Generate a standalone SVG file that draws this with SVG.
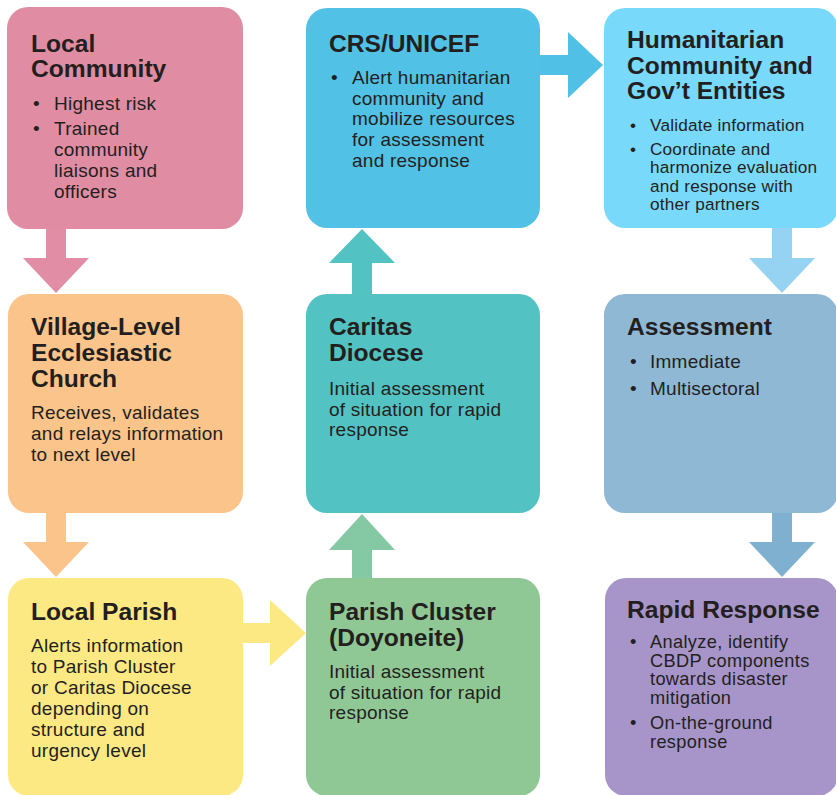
<svg xmlns="http://www.w3.org/2000/svg" width="836" height="795" viewBox="0 0 836 795">
  <style>
    .title { font-family: "Liberation Sans", Arial, sans-serif; font-weight: bold; font-size: 24.6px; fill: #231f20; }
    .body { font-family: "Liberation Sans", Arial, sans-serif; font-size: 19px; letter-spacing: 0.25px; fill: #231f20; }
    .small { font-size: 17.2px; letter-spacing: 0.2px; }
    .mid { font-size: 18.2px; letter-spacing: 0.35px; }
  </style>
  <rect width="836" height="795" fill="#ffffff"/>

  <!-- block arrows between stages -->
  <g id="connectors">
    <polygon id="a-community-village" fill="#e08da5" points="46,228 66,228 66,258 89,258 56,293 23,258 46,258"/>
    <polygon id="a-village-parish" fill="#fbc48a" points="46,512 66,512 66,542 89,542 56,577 23,542 46,542"/>
    <polygon id="a-parish-cluster" fill="#fde983" points="242,623 270,623 270,600 306,633 270,666 270,643 242,643"/>
    <polygon id="a-cluster-caritas" fill="#84c9a3" points="352,579 372,579 372,550 395,550 362,514 329,550 352,550"/>
    <polygon id="a-caritas-crs" fill="#52c2c2" points="352,295 372,295 372,263 395,263 362,229 329,263 352,263"/>
    <polygon id="a-crs-humanitarian" fill="#50c0e6" points="538,55 568,55 568,32 603,65 568,98 568,75 538,75"/>
    <polygon id="a-humanitarian-assessment" fill="#96d2f2" points="772,227 792,227 792,258 815,258 782,293 749,258 772,258"/>
    <polygon id="a-assessment-rapid" fill="#7fb0d0" points="772,512 792,512 792,542 815,542 782,577 749,542 772,542"/>
  </g>

  <!-- Column 1 -->
  <g id="local-community">
    <rect x="7" y="7" width="236" height="222" rx="21" fill="#e08da3"/>
    <text class="title" x="31" y="52">Local<tspan x="31" dy="25">Community</tspan></text>
    <text class="body" x="33" y="110">•</text>
    <text class="body" x="54" y="110">Highest risk</text>
    <text class="body" x="33" y="135">•</text>
    <text class="body" x="54" y="135">Trained<tspan x="54" dy="21">community</tspan><tspan x="54" dy="21">liaisons and</tspan><tspan x="54" dy="21">officers</tspan></text>
  </g>

  <g id="village-church">
    <rect x="8" y="294" width="235" height="219" rx="21" fill="#fbc48a"/>
    <text class="title" x="31" y="335">Village-Level<tspan x="31" dy="26">Ecclesiastic</tspan><tspan x="31" dy="26">Church</tspan></text>
    <text class="body" x="31" y="419">Receives, validates<tspan x="31" dy="21">and relays information</tspan><tspan x="31" dy="21">to next level</tspan></text>
  </g>

  <g id="local-parish">
    <rect x="8" y="578" width="235" height="218" rx="21" fill="#fde983"/>
    <text class="title" x="31" y="620">Local Parish</text>
    <text class="body" x="31" y="652">Alerts information<tspan x="31" dy="21">to Parish Cluster</tspan><tspan x="31" dy="21">or Caritas Diocese</tspan><tspan x="31" dy="21">depending on</tspan><tspan x="31" dy="21">structure and</tspan><tspan x="31" dy="21">urgency level</tspan></text>
  </g>

  <!-- Column 2 -->
  <g id="crs-unicef">
    <rect x="306" y="8" width="234" height="220" rx="21" fill="#52c1e6"/>
    <text class="title" x="329" y="52">CRS/UNICEF</text>
    <text class="body" x="331" y="84">•</text>
    <text class="body" x="352" y="84">Alert humanitarian<tspan x="352" dy="20.7">community and</tspan><tspan x="352" dy="20.7">mobilize resources</tspan><tspan x="352" dy="20.7">for assessment</tspan><tspan x="352" dy="20.7">and response</tspan></text>
  </g>

  <g id="caritas-diocese">
    <rect x="306" y="294" width="234" height="219" rx="21" fill="#53c2c3"/>
    <text class="title" x="329" y="335">Caritas<tspan x="329" dy="26">Diocese</tspan></text>
    <text class="body" x="329" y="395">Initial assessment<tspan x="329" dy="20.5">of situation for rapid</tspan><tspan x="329" dy="20.5">response</tspan></text>
  </g>

  <g id="parish-cluster">
    <rect x="306" y="578" width="234" height="218" rx="21" fill="#90c895"/>
    <text class="title" x="329" y="620">Parish Cluster<tspan x="329" dy="25.5">(Doyoneite)</tspan></text>
    <text class="body" x="329" y="678">Initial assessment<tspan x="329" dy="20.5">of situation for rapid</tspan><tspan x="329" dy="20.5">response</tspan></text>
  </g>

  <!-- Column 3 -->
  <g id="humanitarian">
    <rect x="604" y="8" width="234" height="220" rx="21" fill="#79d9fb"/>
    <text class="title" x="627" y="48">Humanitarian<tspan x="627" dy="25.5">Community and</tspan><tspan x="627" dy="25.5">Gov’t Entities</tspan></text>
    <text class="body small" x="630" y="131">•</text>
    <text class="body small" x="650" y="131">Validate information</text>
    <text class="body small" x="630" y="155">•</text>
    <text class="body small" x="650" y="155">Coordinate and<tspan x="650" dy="18.3">harmonize evaluation</tspan><tspan x="650" dy="18.3">and response with</tspan><tspan x="650" dy="18.3">other partners</tspan></text>
  </g>

  <g id="assessment">
    <rect x="604" y="294" width="234" height="219" rx="21" fill="#8fb8d5"/>
    <text class="title" x="627" y="335">Assessment</text>
    <text class="body" x="630" y="368">•</text>
    <text class="body" x="650" y="368">Immediate</text>
    <text class="body" x="630" y="395">•</text>
    <text class="body" x="650" y="395">Multisectoral</text>
  </g>

  <g id="rapid-response">
    <rect x="605" y="578" width="233" height="218" rx="21" fill="#a795c9"/>
    <text class="title" x="627" y="618">Rapid Response</text>
    <text class="body mid" x="630" y="648">•</text>
    <text class="body mid" x="650" y="648">Analyze, identify<tspan x="650" dy="18.6">CBDP components</tspan><tspan x="650" dy="18.6">towards disaster</tspan><tspan x="650" dy="18.6">mitigation</tspan></text>
    <text class="body mid" x="630" y="729">•</text>
    <text class="body mid" x="650" y="729">On-the-ground<tspan x="650" dy="18.6">response</tspan></text>
  </g>
</svg>
